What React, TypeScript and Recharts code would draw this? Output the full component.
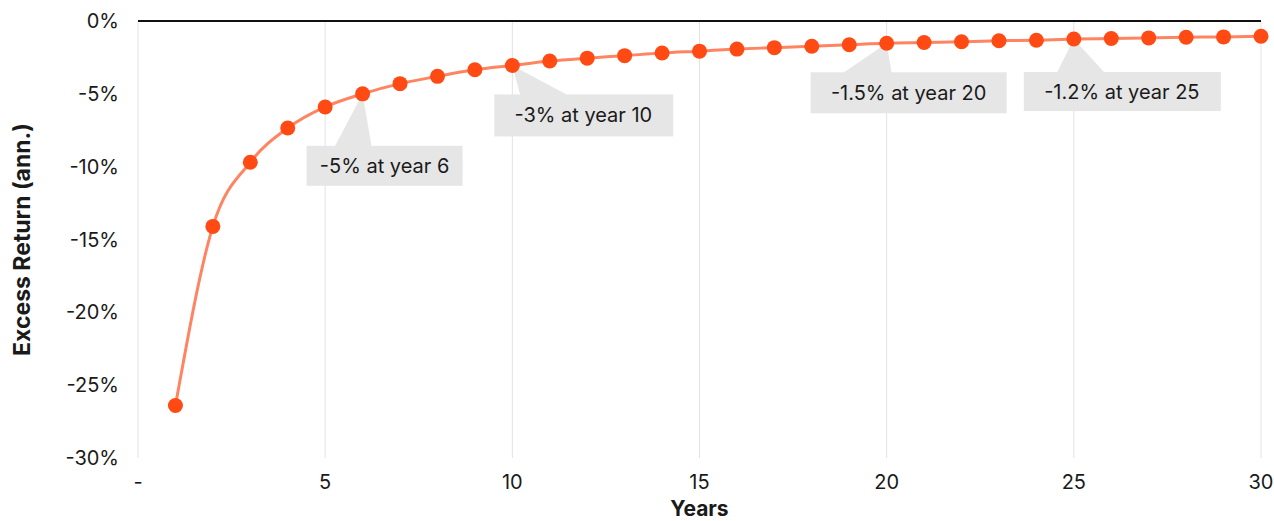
import React from 'react';
import {
  LineChart,
  Line,
  XAxis,
  YAxis,
  CartesianGrid,
  ReferenceLine,
  ReferenceDot,
} from 'recharts';

// Years since start
const years = [
  1, 2, 3, 4, 5, 6, 7, 8, 9, 10, 11, 12, 13, 14, 15,
  16, 17, 18, 19, 20, 21, 22, 23, 24, 25, 26, 27, 28, 29, 30,
];

// Annualised excess return, %
const excessReturn = [
  -26.4, -14.1, -9.7, -7.35, -5.9, -5.0, -4.3, -3.8, -3.35, -3.05,
  -2.75, -2.55, -2.38, -2.2, -2.07, -1.93, -1.83, -1.73, -1.63, -1.53,
  -1.48, -1.42, -1.36, -1.32, -1.24, -1.2, -1.16, -1.12, -1.09, -1.05,
];

const xTicks = [0, 5, 10, 15, 20, 25, 30];
const yTicks = [-30, -25, -20, -15, -10, -5, 0];

const calloutYears = [6, 10, 20, 25];
const calloutLabels = ['-5% at year 6', '-3% at year 10', '-1.5% at year 20', '-1.2% at year 25'];

// box / pointer offsets relative to the marked point (px)
const calloutLayout = [
  { left: -56, right: 100, top: 52, bottom: 92, baseL: -28, baseR: 9, tx: 22 },
  { left: -18, right: 161, top: 29, bottom: 71, baseL: 8, baseR: 56, tx: 71 },
  { left: -76, right: 120, top: 29, bottom: 70, baseL: -44, baseR: 5, tx: 22 },
  { left: -50, right: 147, top: 33, bottom: 72, baseL: -17, baseR: 31, tx: 48 },
];

const FONT = 'Inter, "Noto Sans", sans-serif';

const data = years.map((y, i) => ({ year: y, value: excessReturn[i] }));

function Callout(props: any) {
  const { cx, cy, label, layout } = props;
  if (cx == null || cy == null) return null;
  const l = layout;
  const pts = `${cx},${cy} ${cx + l.baseL},${cy + l.top + 1} ${cx + l.baseR},${cy + l.top + 1}`;
  return (
    <g>
      <polygon points={pts} fill="#e6e6e6" />
      <rect
        x={cx + l.left}
        y={cy + l.top}
        width={l.right - l.left}
        height={l.bottom - l.top}
        fill="#e6e6e6"
      />
      <text
        x={cx + l.tx}
        y={cy + (l.top + l.bottom) / 2}
        textAnchor="middle"
        dominantBaseline="central"
        fontFamily={FONT}
        fontSize={20}
        fill="#1a1a1a"
      >
        {label}
      </text>
    </g>
  );
}

export default function App() {
  return (
    <div style={{ position: 'absolute', left: 0, top: 0, background: '#fff' }}>
      <LineChart
        width={1274}
        height={521}
        data={data}
        margin={{ top: 21, right: 13, bottom: 0, left: 0 }}
      >
        <CartesianGrid horizontal={false} stroke="#e3e3e3" strokeWidth={1} />
        <XAxis
          dataKey="year"
          type="number"
          domain={[0, 30]}
          ticks={xTicks}
          tickFormatter={(v: number) => (v === 0 ? '-' : String(v))}
          axisLine={false}
          tickLine={false}
          tickSize={0}
          tickMargin={17}
          height={63}
          tick={{ fontFamily: FONT, fontSize: 20, fill: '#1a1a1a' }}
          label={{
            value: 'Years',
            position: 'insideBottom',
            offset: 5,
            style: { fontFamily: FONT, fontSize: 21, fontWeight: 700, fill: '#1a1a1a' },
          }}
        />
        <YAxis
          type="number"
          domain={[-30, 0]}
          ticks={yTicks}
          tickFormatter={(v: number) => `${v}%`}
          axisLine={false}
          tickLine={false}
          tickSize={0}
          tickMargin={19}
          width={138}
          tick={{ fontFamily: FONT, fontSize: 20, fill: '#1a1a1a' }}
          label={{
            value: 'Excess Return (ann.)',
            angle: -90,
            position: 'insideLeft',
            offset: 22,
            style: {
              textAnchor: 'middle',
              fontFamily: FONT,
              fontSize: 23,
              fontWeight: 700,
              fill: '#1a1a1a',
            },
          }}
        />
        <ReferenceLine y={0} stroke="#111" strokeWidth={2} />
        {calloutYears.map((yr, i) => (
          <ReferenceDot
            key={yr}
            x={yr}
            y={excessReturn[years.indexOf(yr)]}
            r={0}
            shape={(p: any) => (
              <Callout cx={p.cx} cy={p.cy} label={calloutLabels[i]} layout={calloutLayout[i]} />
            )}
          />
        ))}
        <Line
          type="monotone"
          dataKey="value"
          stroke="#ff8462"
          strokeWidth={3}
          dot={{ r: 7.5, fill: '#ff4a14', stroke: 'none' }}
          activeDot={false}
          isAnimationActive={false}
        />
      </LineChart>
    </div>
  );
}
